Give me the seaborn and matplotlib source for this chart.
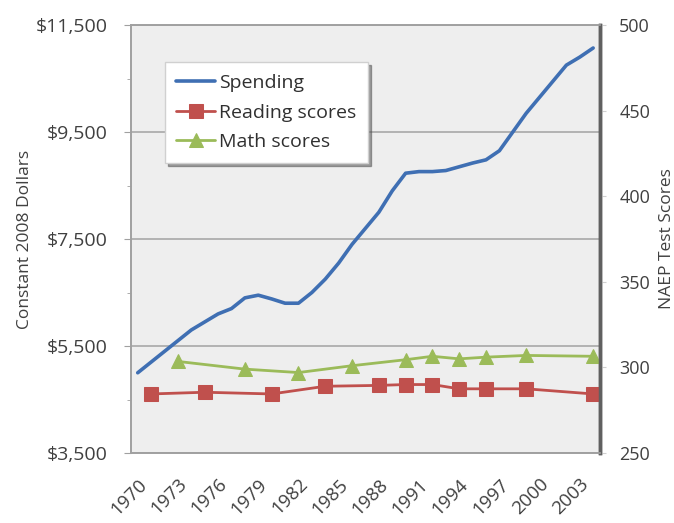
import numpy as np
import pandas as pd
import seaborn as sns
import matplotlib.pyplot as plt
from matplotlib.ticker import FixedLocator, FuncFormatter

# Spending per pupil (constant 2008 dollars), one value per year
years = list(range(1970, 2005))
spending = [5000, 5200, 5400, 5600, 5800, 5950, 6100, 6200, 6400, 6450,
            6380, 6300, 6300, 6500, 6750, 7050, 7400, 7700, 8000, 8400,
            8730, 8760, 8760, 8780, 8850, 8920, 8980, 9150, 9500, 9850,
            10150, 10450, 10750, 10900, 11070]

# NAEP reading (age 17)
reading_years = [1971, 1975, 1980, 1984, 1988, 1990, 1992, 1994, 1996, 1999, 2004]
reading_scores = [284.5, 285.5, 284.5, 289, 289.5, 290, 290, 287.5, 287.5, 287.5, 284.5]

# NAEP math (age 17)
math_years = [1973, 1978, 1982, 1986, 1990, 1992, 1994, 1996, 1999, 2004]
math_scores = [303.5, 299, 297, 301, 304.5, 306.5, 305, 306, 307, 306.5]

x_labels = list(range(1970, 2004, 3))

spend_df = pd.DataFrame({"year": years, "value": spending})
read_df = pd.DataFrame({"year": reading_years, "score": reading_scores})
math_df = pd.DataFrame({"year": math_years, "score": math_scores})

sns.set_style("white")
plt.rcParams["font.family"] = ["Open Sans", "DejaVu Sans"]

blue = "#3f6fb3"
red = "#c0504d"
green = "#9bbb59"
text_col = "#404040"

fig = plt.figure(figsize=(6.74, 5.23), dpi=100)
ax = fig.add_axes([0.1944, 0.1338, 0.6956, 0.8184])
ax.set_facecolor("#eeeeee")

sns.lineplot(data=spend_df, x="year", y="value", ax=ax, color=blue,
             linewidth=2.6, label="Spending", legend=False)

ax.set_xlim(1969.5, 2004.5)
ax.set_ylim(3500, 11500)
ax.set_yticks([3500, 5500, 7500, 9500, 11500])
ax.yaxis.set_minor_locator(FixedLocator([4500, 6500, 8500, 10500]))
ax.yaxis.set_major_formatter(FuncFormatter(lambda v, p: f"${v:,.0f}"))
ax.grid(axis="y", color="#a8a8a8", linewidth=1.2)
ax.set_xticks(x_labels)
ax.set_xticklabels([str(y) for y in x_labels], rotation=45, ha="right",
                   rotation_mode="anchor")
ax.tick_params(axis="x", length=0, pad=16, labelsize=13.5, labelcolor=text_col)
ax.tick_params(axis="y", which="major", length=5, color="#a0a0a0",
               labelsize=14, labelcolor=text_col, pad=12, left=True)
ax.tick_params(axis="y", which="minor", length=3, color="#a0a0a0", left=True)
ax.set_xlabel("")
ax.set_ylabel("Constant 2008 Dollars", fontsize=12.5, color=text_col, labelpad=2)

ax2 = ax.twinx()
sns.lineplot(data=read_df, x="year", y="score", ax=ax2, color=red,
             linewidth=2, marker="s", markersize=10, markeredgecolor=red,
             label="Reading scores", legend=False)
sns.lineplot(data=math_df, x="year", y="score", ax=ax2, color=green,
             linewidth=2, marker="^", markersize=10, markeredgecolor=green,
             label="Math scores", legend=False)
ax2.set_ylim(250, 500)
ax2.set_yticks([250, 300, 350, 400, 450, 500])
ax2.tick_params(axis="y", length=4, color="#d0d0d0", labelsize=13,
                labelcolor=text_col, pad=10, right=True)
ax2.set_ylabel("NAEP Test Scores", fontsize=12.5, color=text_col, labelpad=6)
ax2.set_xlabel("")

for a in (ax, ax2):
    for s in ("left", "bottom", "top"):
        a.spines[s].set_color("#a0a0a0")
        a.spines[s].set_linewidth(1.2)
    a.spines["right"].set_color("#606060")
    a.spines["right"].set_linewidth(2.5)

handles = ax.get_lines()[:1] + ax2.get_lines()[:2]
leg = ax2.legend(handles, ["Spending", "Reading scores", "Math scores"],
                 loc="upper left", bbox_to_anchor=(0.072, 0.913),
                 frameon=True, fancybox=False, shadow=True, fontsize=14,
                 handlelength=2.0, handletextpad=0.2, labelspacing=0.6,
                 borderpad=0.6, borderaxespad=0)
leg.get_frame().set_facecolor("white")
leg.get_frame().set_edgecolor("#d0d0d0")
for t in leg.get_texts():
    t.set_color("#303030")

fig.savefig("out.png", dpi=100)
